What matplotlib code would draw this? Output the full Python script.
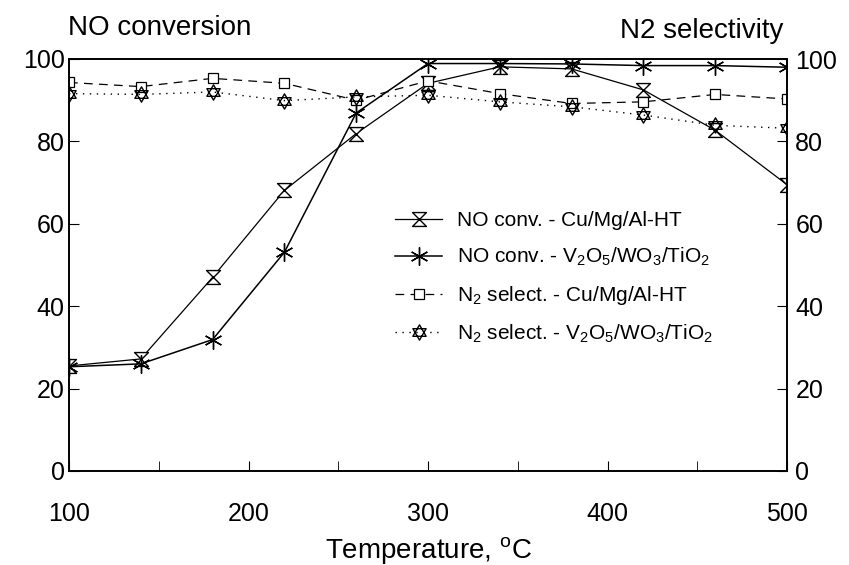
import numpy as np
import matplotlib.pyplot as plt
from matplotlib.path import Path

plt.rcParams['font.family'] = ['Liberation Sans', 'DejaVu Sans']
plt.rcParams['mathtext.fontset'] = 'custom'
plt.rcParams['mathtext.rm'] = 'Liberation Sans'
plt.rcParams['mathtext.it'] = 'Liberation Sans'

# data
temp = [100, 140, 180, 220, 260, 300, 340, 380, 420, 460, 500]
no_conv_cu = [25.5, 27.2, 47.0, 68.1, 81.9, 94.1, 98.1, 97.6, 92.5, 82.7, 69.5]
no_conv_v = [25.3, 26.0, 31.9, 53.1, 86.9, 98.9, 98.9, 98.8, 98.4, 98.4, 98.0]
n2_sel_cu = [94.3, 93.3, 95.3, 94.1, 90.0, 94.7, 91.6, 89.2, 89.6, 91.4, 90.3]
n2_sel_v = [91.6, 91.4, 92.0, 89.9, 90.8, 91.2, 89.6, 88.4, 86.4, 83.9, 83.2]

labels = ['NO conv. - Cu/Mg/Al-HT',
          'NO conv. - V$_2$O$_5$/WO$_3$/TiO$_2$',
          'N$_2$ select. - Cu/Mg/Al-HT',
          'N$_2$ select. - V$_2$O$_5$/WO$_3$/TiO$_2$']

# marker shapes
hourglass = Path([(-1, 1), (1, 1), (-1, -1), (1, -1), (-1, 1)],
                 [Path.MOVETO, Path.LINETO, Path.LINETO, Path.LINETO, Path.CLOSEPOLY])
ang = np.deg2rad([90, 210, 330])
t1 = [(np.cos(a), np.sin(a)) for a in ang]
t2 = [(np.cos(a), -np.sin(a)) for a in ang]
hexagram = Path(t1 + [t1[0]] + t2 + [t2[0]],
                [Path.MOVETO, Path.LINETO, Path.LINETO, Path.CLOSEPOLY] * 2)

fig = plt.figure(figsize=(8.49, 5.65), dpi=100)
ax = fig.add_axes([69 / 849, 1 - 471 / 565, 718 / 849, 412 / 565])

ax.plot(temp, no_conv_cu, color='black', lw=0.9, marker=hourglass, ms=10,
        mfc='white', mec='black', mew=1.0, label=labels[0])
ax.plot(temp, no_conv_v, color='black', lw=1.1, marker=(6, 2, 0), ms=13,
        mec='black', mew=1.0, label=labels[1])
ax.plot(temp, n2_sel_cu, color='black', lw=0.9, ls=(0, (7, 5)), marker='s', ms=7,
        mfc='white', mec='black', mew=0.9, label=labels[2])
ax.plot(temp, n2_sel_v, color='black', lw=1.0, ls=(0, (1, 4)), marker=hexagram, ms=11,
        mfc='none', mec='black', mew=1.0, label=labels[3])

ax.set_xlim(100, 500)
ax.set_ylim(0, 100)
ax.set_xticks([100, 200, 300, 400, 500])
ax.set_xticks([150, 250, 350, 450], minor=True)
ax.set_yticks(range(0, 101, 20))
ax.tick_params(axis='x', which='both', direction='in', length=7, pad=22, labelsize=18)
ax.tick_params(axis='y', direction='in', length=7, pad=3, labelsize=18)

ax2 = ax.twinx()
ax2.set_ylim(0, 100)
ax2.set_yticks(range(0, 101, 20))
ax2.tick_params(axis='y', direction='in', length=7, pad=6, labelsize=18)

for a in (ax, ax2):
    for s in a.spines.values():
        s.set_linewidth(1.2)

ax.set_xlabel('Temperature, $^{\\rm o}$C', fontsize=20, labelpad=7)
fig.text(68 / 849, 1 - 35 / 565, 'NO conversion', fontsize=20, ha='left', va='baseline')
fig.text(783 / 849, 1 - 38 / 565, 'N2 selectivity', fontsize=20, ha='right', va='baseline')

ax.legend(loc='upper left', bbox_to_anchor=(0.454, 0.63), frameon=False,
          fontsize=15, handlelength=2.26, handletextpad=0.72, labelspacing=0.75,
          borderpad=0, borderaxespad=0, numpoints=1)

fig.savefig('out.png', dpi=100)
